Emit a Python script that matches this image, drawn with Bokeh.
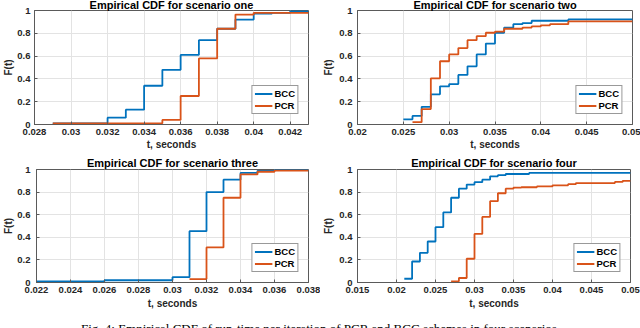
from bokeh.plotting import figure
from bokeh.layouts import column, row
from bokeh.models import Range1d, FixedTicker, CustomJSTickFormatter, Label
from bokeh.embed import file_html
from bokeh.resources import INLINE

BCC_COLOR = "#0072BD"
PCR_COLOR = "#D95319"
FONT = "Liberation Sans"

# ---------------- data ----------------
titles = ["Empirical CDF for scenario one", "Empirical CDF for scenario two",
          "Empirical CDF for scenario three", "Empirical CDF for scenario four"]
series_names = ["BCC", "PCR"]
x_label = "t, seconds"
y_label = "F(t)"
caption = "Fig. 4: Empirical CDF of run-time per iteration of PCR and BCC schemes in four scenarios."

y_ticks = [0, 0.2, 0.4, 0.6, 0.8, 1.0]
y_tick_labels = ["0", "0.2", "0.4", "0.6", "0.8", "1"]

# scenario one
s1_x_range = [0.028, 0.043]
s1_x_ticks = [0.028, 0.030, 0.032, 0.034, 0.036, 0.038, 0.040, 0.042]
s1_x_tick_labels = ["0.028", "0.03", "0.032", "0.034", "0.036", "0.038", "0.04", "0.042"]
s1_bcc_t = [0.029, 0.032, 0.033, 0.034, 0.035, 0.036, 0.037, 0.038, 0.039, 0.040, 0.041, 0.042, 0.043]
s1_bcc_F = [0.01, 0.06, 0.13, 0.34, 0.48, 0.61, 0.74, 0.84, 0.92, 0.973, 0.98, 0.995, 0.995]
s1_pcr_t = [0.029, 0.035, 0.036, 0.037, 0.038, 0.039, 0.040, 0.043]
s1_pcr_F = [0.01, 0.04, 0.25, 0.58, 0.84, 0.964, 0.98, 0.98]

# scenario two
s2_x_range = [0.02, 0.05]
s2_x_ticks = [0.020, 0.025, 0.030, 0.035, 0.040, 0.045, 0.050]
s2_x_tick_labels = ["0.02", "0.025", "0.03", "0.035", "0.04", "0.045", "0.05"]
s2_bcc_t = [0.025, 0.026, 0.027, 0.028, 0.029, 0.030, 0.031, 0.032, 0.033, 0.034, 0.035,
            0.036, 0.037, 0.038, 0.039, 0.043, 0.050]
s2_bcc_F = [0.045, 0.075, 0.155, 0.265, 0.335, 0.355, 0.435, 0.51, 0.615, 0.71, 0.805,
            0.85, 0.88, 0.89, 0.91, 0.922, 0.922]
s2_pcr_t = [0.026, 0.027, 0.028, 0.029, 0.030, 0.031, 0.032, 0.033, 0.034, 0.035, 0.036,
            0.038, 0.039, 0.040, 0.041, 0.043, 0.050]
s2_pcr_F = [0.02, 0.135, 0.405, 0.555, 0.615, 0.67, 0.74, 0.775, 0.805, 0.815, 0.84,
            0.85, 0.86, 0.87, 0.88, 0.905, 0.905]

# scenario three
s3_x_range = [0.022, 0.038]
s3_x_ticks = [0.022, 0.024, 0.026, 0.028, 0.030, 0.032, 0.034, 0.036, 0.038]
s3_x_tick_labels = ["0.022", "0.024", "0.026", "0.028", "0.03", "0.032", "0.034", "0.036", "0.038"]
s3_bcc_t = [0.022, 0.026, 0.030, 0.031, 0.032, 0.033, 0.034, 0.035, 0.036, 0.038]
s3_bcc_F = [0.01, 0.02, 0.047, 0.454, 0.80, 0.91, 0.97, 0.988, 0.997, 0.997]
s3_pcr_t = [0.031, 0.032, 0.033, 0.034, 0.035, 0.036, 0.038]
s3_pcr_F = [0.03, 0.31, 0.75, 0.956, 0.98, 0.99, 0.99]

# scenario four
s4_x_range = [0.015, 0.05]
s4_x_ticks = [0.015, 0.020, 0.025, 0.030, 0.035, 0.040, 0.045, 0.050]
s4_x_tick_labels = ["0.015", "0.02", "0.025", "0.03", "0.035", "0.04", "0.045", "0.05"]
s4_bcc_t = [0.021, 0.022, 0.023, 0.024, 0.025, 0.026, 0.027, 0.028, 0.029, 0.030, 0.031,
            0.032, 0.033, 0.034, 0.037, 0.050]
s4_bcc_F = [0.033, 0.186, 0.263, 0.363, 0.49, 0.62, 0.75, 0.83, 0.867, 0.888, 0.91,
            0.94, 0.95, 0.96, 0.97, 0.97]
s4_pcr_t = [0.027, 0.028, 0.029, 0.030, 0.031, 0.032, 0.033, 0.034, 0.035, 0.036, 0.038,
            0.040, 0.042, 0.043, 0.048, 0.049, 0.050]
s4_pcr_F = [0.01, 0.04, 0.21, 0.43, 0.58, 0.72, 0.79, 0.83, 0.84, 0.843, 0.85,
            0.86, 0.87, 0.88, 0.89, 0.90, 0.90]


def tick_fmt(tvals, tlabs):
    return CustomJSTickFormatter(args=dict(tvals=tvals, tlabs=tlabs), code="""
        let best = 0, d = Infinity;
        for (let i = 0; i < tvals.length; i++) {
            const e = Math.abs(tvals[i] - tick);
            if (e < d) { d = e; best = i; }
        }
        return tlabs[best];
    """)


def panel(title, xr, xt, xtl, bt, bF, pt, pF, width, height, bl, br, bt_, bb,
          ylab_standoff, ylab_tick_standoff, title_standoff, xl_tick_so, xl_so):
    p = figure(width=width, height=height, output_backend="svg", toolbar_location=None,
               x_range=Range1d(*xr), y_range=Range1d(0, 1),
               min_border_left=bl, min_border_right=br, min_border_top=bt_,
               min_border_bottom=bb, title=title)
    p.title.text_font = FONT
    p.title.text_font_size = "11px"
    p.title.text_font_style = "bold"
    p.title.align = "center"
    p.title.standoff = title_standoff
    p.title.text_color = "#000000"

    p.step(bt, bF, mode="after", line_width=1.8, color=BCC_COLOR, legend_label=series_names[0])
    p.step(pt, pF, mode="after", line_width=1.8, color=PCR_COLOR, legend_label=series_names[1])

    p.xaxis.ticker = FixedTicker(ticks=xt)
    p.xaxis.formatter = tick_fmt(xt, xtl)
    p.yaxis.ticker = FixedTicker(ticks=y_ticks)
    p.yaxis.formatter = tick_fmt(y_ticks, y_tick_labels)
    p.xaxis.axis_label = x_label
    p.yaxis.axis_label = y_label

    for ax in (p.xaxis[0], p.yaxis[0]):
        ax.major_label_text_font = FONT
        ax.major_label_text_font_size = "9.5px"
        ax.major_label_text_font_style = "bold"
        ax.major_label_text_color = "#262626"
        ax.axis_label_text_font = FONT
        ax.axis_label_text_font_size = "10px"
        ax.axis_label_text_font_style = "bold"
        ax.axis_label_text_color = "#262626"
        ax.major_tick_in = 3
        ax.major_tick_out = 0
        ax.minor_tick_in = 0
        ax.minor_tick_out = 0
        ax.axis_line_color = "#5a5a5a"
        ax.major_tick_line_color = "#5a5a5a"
    p.xaxis.major_label_standoff = xl_tick_so
    p.xaxis.axis_label_standoff = xl_so
    p.yaxis.major_label_standoff = ylab_tick_standoff
    p.yaxis.axis_label_standoff = ylab_standoff

    p.outline_line_color = "#5a5a5a"
    p.xgrid.grid_line_color = "#e3e3e3"
    p.ygrid.grid_line_color = "#e3e3e3"

    lg = p.legend[0]
    lg.location = "bottom_right"
    lg.label_text_font = FONT
    lg.label_text_font_size = "9.5px"
    lg.label_text_font_style = "bold"
    lg.label_text_color = "#000000"
    lg.glyph_width = 18
    lg.glyph_height = 9
    lg.label_height = 9
    lg.label_width = 18
    lg.label_standoff = 2
    lg.spacing = 1
    lg.padding = 2
    lg.margin = 10
    lg.border_line_color = "#333333"
    lg.background_fill_alpha = 1.0
    p.background_fill_color = "white"
    p.border_fill_color = "white"
    return p


p1 = panel(titles[0], s1_x_range, s1_x_ticks, s1_x_tick_labels,
           s1_bcc_t, s1_bcc_F, s1_pcr_t, s1_pcr_F, 320, 156, 31, 12, 12, 28, 0, 4, 0, 4, 1)
p2 = panel(titles[1], s2_x_range, s2_x_ticks, s2_x_tick_labels,
           s2_bcc_t, s2_bcc_F, s2_pcr_t, s2_pcr_F, 320, 156, 36, 8, 12, 28, 2, 5, 0, 4, 1)
p3 = panel(titles[2], s3_x_range, s3_x_ticks, s3_x_tick_labels,
           s3_bcc_t, s3_bcc_F, s3_pcr_t, s3_pcr_F, 320, 159, 32, 12, 17, 29, 0, 6, 1, 4, 2)
p4 = panel(titles[3], s4_x_range, s4_x_ticks, s4_x_tick_labels,
           s4_bcc_t, s4_bcc_F, s4_pcr_t, s4_pcr_F, 320, 159, 33, 10, 17, 29, 2, 5, 1, 4, 2)

# caption strip (only its upper part falls inside the window, as in the reference)
pc = figure(width=640, height=17, output_backend="svg", toolbar_location=None,
            x_range=Range1d(0, 1), y_range=Range1d(0, 1),
            min_border_left=0, min_border_right=0, min_border_top=0, min_border_bottom=0)
pc.axis.visible = False
pc.grid.visible = False
pc.outline_line_color = None
pc.background_fill_color = "white"
pc.border_fill_color = "white"
pc.add_layout(Label(x=320, y=8, x_units="screen", y_units="screen", text=caption,
                    text_font="Liberation Serif", text_font_size="13px",
                    text_color="#000000", text_align="center", text_baseline="top"))

layout = column(row(p1, p2), row(p3, p4), pc, margin=(-4, 0, 0, 0))

open("out.html", "w").write(file_html(layout, INLINE))
